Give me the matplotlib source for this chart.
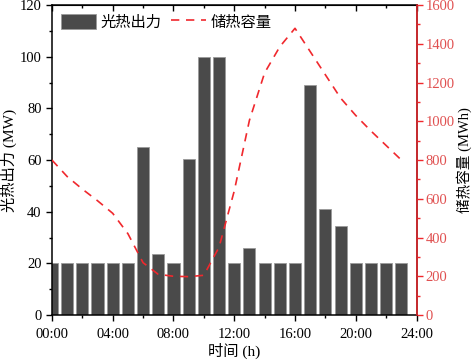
import numpy as np
import matplotlib
matplotlib.use('Agg')
import matplotlib.pyplot as plt
from matplotlib.ticker import MultipleLocator, FuncFormatter

plt.rcParams['font.family'] = ['Liberation Serif', 'Noto Sans CJK SC']
plt.rcParams['axes.unicode_minus'] = False

hours = np.arange(24)
# solar thermal output (MW)
csp_output = [20, 20, 20, 20, 20, 20, 65, 23.5, 20, 60.5, 100, 100,
              20, 26, 20, 20, 20, 89, 41, 34.5, 20, 20, 20, 20]
# heat storage capacity (MWh)
storage = [800, 715, 650, 590, 525, 420, 270, 210, 200, 198, 205, 350,
           640, 1005, 1250, 1385, 1480, 1360, 1240, 1120, 1030, 950, 875, 800]

red = '#f0282d'
red_txt = '#e05050'

fig = plt.figure(figsize=(4.72, 3.61), dpi=100)
ax = fig.add_axes([0.110, 0.1274, 0.7725, 0.8586])

bars = ax.bar(hours, csp_output, width=0.8, color='#4a4a4a',
              edgecolor='#9a9a9a', linewidth=0.6, label='光热出力', zorder=2)
ax.set_xlim(0, 24)
ax.set_ylim(0, 120)
ax.xaxis.set_major_locator(MultipleLocator(4))
ax.xaxis.set_minor_locator(MultipleLocator(2))
ax.xaxis.set_major_formatter(FuncFormatter(lambda v, p: '%02d:00' % int(v)))
ax.yaxis.set_major_locator(MultipleLocator(20))
ax.yaxis.set_minor_locator(MultipleLocator(10))
ax.tick_params(axis='both', which='major', direction='out', length=4,
               width=1, labelsize=10.5)
ax.tick_params(axis='x', which='major', pad=5)
ax.tick_params(axis='both', which='minor', direction='out', length=2.5, width=1)
ax.set_xlabel('时间 (h)', fontsize=11, labelpad=2)
ax.set_ylabel('光热出力 (MW)', fontsize=11, labelpad=2)
for s in ax.spines.values():
    s.set_linewidth(1.1)

# ticks on top spine pointing inward
top = ax.secondary_xaxis('top')
top.xaxis.set_major_locator(MultipleLocator(4))
top.xaxis.set_minor_locator(MultipleLocator(2))
top.tick_params(which='major', direction='in', length=4, width=1, labeltop=False)
top.tick_params(which='minor', direction='in', length=2.5, width=1)

ax2 = ax.twinx()
line, = ax2.plot(hours, storage, color=red, linestyle=(0, (5, 4)),
                 linewidth=1.2, label='储热容量')
ax2.set_ylim(0, 1600)
ax2.yaxis.set_major_locator(MultipleLocator(200))
ax2.yaxis.set_minor_locator(MultipleLocator(100))
ax2.tick_params(axis='y', which='major', direction='out', length=4, width=1,
                colors=red, labelcolor=red_txt, labelsize=10.5, pad=2.5)
ax2.tick_params(axis='y', which='minor', direction='out', length=2.5, width=1,
                colors=red)
ax2.spines['right'].set_color(red)
ax2.spines['right'].set_linewidth(1.1)
ax2.spines['left'].set_visible(False)
ax2.spines['top'].set_visible(False)
ax2.spines['bottom'].set_visible(False)
ax2.set_ylabel('储热容量 (MWh)', fontsize=10.5, labelpad=1)

ax.legend([bars, line], ['光热出力', '储热容量'], loc='upper left', ncol=2,
          frameon=False, fontsize=11, handlelength=2.3, handleheight=1.1,
          columnspacing=0.6, handletextpad=0.3, borderaxespad=0.2)

fig.savefig('out.png', dpi=100)
